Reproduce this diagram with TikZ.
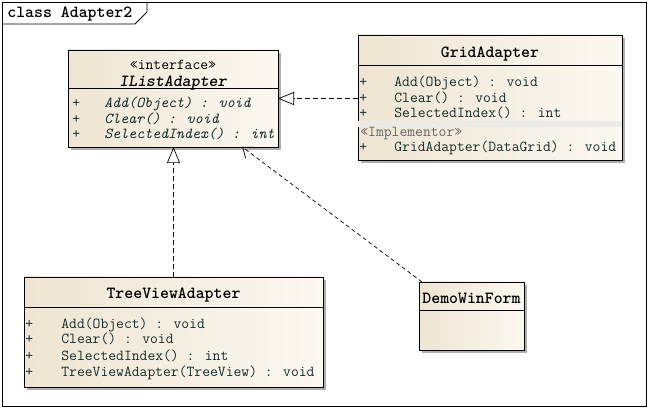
\documentclass[tikz,border=0pt]{standalone}
\usepackage{fontspec}
\usetikzlibrary{arrows.meta,shadows}
\definecolor{umlfill}{RGB}{238,229,210}
\definecolor{umlfilllight}{RGB}{251,248,241}
\definecolor{umltext}{RGB}{20,45,45}
\definecolor{umlband}{RGB}{236,234,230}
\tikzset{
  classbox/.style={draw, inner sep=0pt, outer sep=0pt, anchor=north west,
    left color=umlfill, right color=umlfilllight,
    drop shadow={shadow xshift=3pt, shadow yshift=-3pt, fill=black!45, opacity=0.7}},
  classname/.style={font=\fontsize{17}{18}\selectfont\ttfamily\bfseries, anchor=base, inner sep=0pt},
  member/.style={font=\fontsize{15.2}{16}\selectfont\ttfamily, text=umltext, anchor=base west, inner sep=0pt},
  memberit/.style={member, font=\fontsize{15.2}{16}\selectfont\ttfamily\itshape},
  realize/.style={dash pattern=on 5pt off 3pt, line width=0.7pt, -{Triangle[open, length=16pt, width=13pt]}},
  depend/.style={dash pattern=on 4pt off 3pt, line width=0.7pt, -{Straight Barb[length=9pt, width=14pt]}},
}

\begin{document}
\begin{tikzpicture}[x=1pt, y=-1pt, line width=0.8pt]
      \useasboundingbox (0,0) rectangle (649,409);
      % frame with tab
      \draw (2,2) rectangle (646,406);
      \draw (2,24) -- (135,24) -- (147,12) -- (147,2);
      \node [classname, anchor=base west] (diagram) at (7,18) {class Adapter2};

      % classes
      \node [classbox, minimum width=210pt, minimum height=97pt] (ilist) at (68,50) {};
      \node [classbox, minimum width=264pt, minimum height=125pt] (grid) at (358,35) {};
      \node [classbox, minimum width=299pt, minimum height=110pt] (tree) at (24,277) {};
      \node [classbox, minimum width=105pt, minimum height=68pt] (demo) at (419,282) {};

      \draw (ilist.west |- 0,88) -- (ilist.east |- 0,88);
      \draw (grid.west |- 0,65) -- (grid.east |- 0,65);
      \draw (tree.west |- 0,307) -- (tree.east |- 0,307);
      \draw (demo.west |- 0,310) -- (demo.east |- 0,310);

      \node [member, anchor=base, text=black] (ilist-st) at (ilist.center |- 0,70) {«interface»};
      \node [classname, font=\fontsize{17}{18}\selectfont\ttfamily\bfseries\itshape] (ilist-name) at (ilist.center |- 0,86.5) {IListAdapter};
      \node [classname] (grid-name) at (grid.center |- 0,58) {GridAdapter};
      \node [classname] (tree-name) at (tree.center |- 0,299) {TreeViewAdapter};
      \node [classname] (demo-name) at (demo.center |- 0,304) {DemoWinForm};

      % members
      \foreach \txt [count=\i] in {Add(Object) : void, Clear() : void, SelectedIndex() : int} {
        \node [member] (ilist-p\i) at (72,92.5+15.5*\i) {+};
        \node [memberit] (ilist-m\i) at (104,92.5+15.5*\i) {\txt};
      }
      \foreach \txt [count=\i] in {Add(Object) : void, Clear() : void, SelectedIndex() : int} {
        \node [member] (grid-p\i) at (359,71.5+15.5*\i) {+};
        \node [member] (grid-m\i) at (394,71.5+15.5*\i) {\txt};
      }
      \fill [umlband] ([xshift=0.4pt]grid.west |- 0,121) rectangle ([xshift=-0.4pt]grid.east |- 0,127);
      \node [member, text=black!60] (grid-st) at (360,137) {«Implementor»};
      \node [member] (grid-p4) at (359,152) {+};
      \node [member] (grid-m4) at (394,152) {GridAdapter(DataGrid) : void};
      \foreach \txt [count=\i] in {Add(Object) : void, Clear() : void, SelectedIndex() : int, TreeViewAdapter(TreeView) : void} {
        \node [member] (tree-p\i) at (25,312+16*\i) {+};
        \node [member] (tree-m\i) at (61,312+16*\i) {\txt};
      }

      % relations
      \draw [realize] (grid.west |- ilist.east) -- (ilist.east);
      \draw [realize] (tree.north) -- (tree.north |- ilist.south);
      \draw [depend] ([xshift=3pt]demo.north west) -- (ilist.-35.5);
    \end{tikzpicture}
\end{document}
